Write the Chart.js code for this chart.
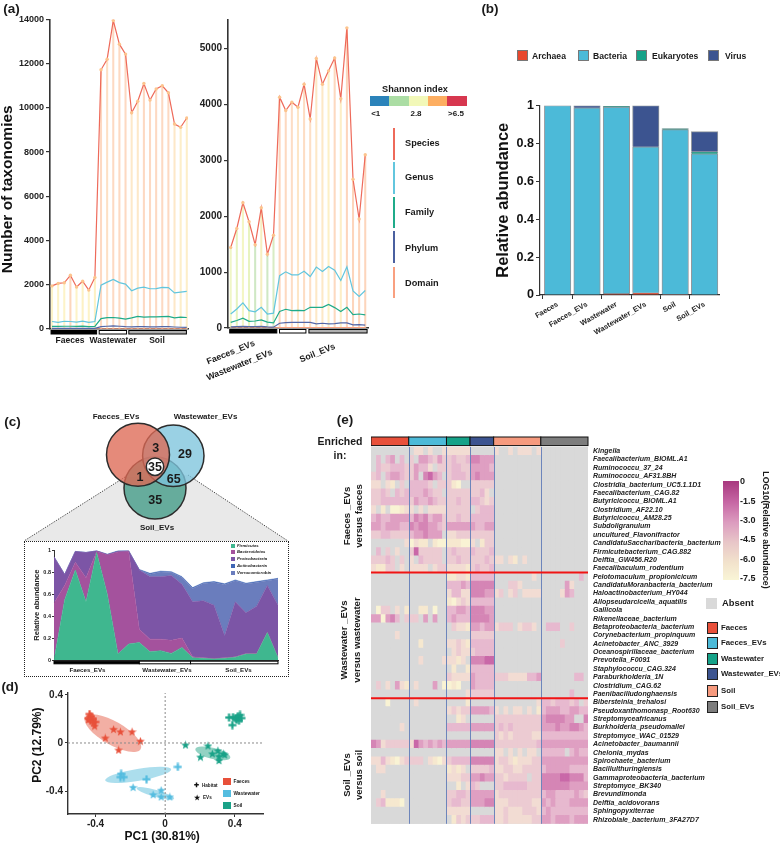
<!DOCTYPE html>
<html><head><meta charset="utf-8">
<style>
html,body{margin:0;padding:0;background:#fff;width:780px;height:844px;overflow:hidden}
#page{position:relative;width:780px;height:844px;font-family:"Liberation Sans",Arial,sans-serif;color:#1a1a1a}
canvas{position:absolute}
.t{position:absolute;white-space:nowrap;line-height:1;font-weight:bold;z-index:5}
.b{position:absolute;box-sizing:border-box}
</style>
<script src="https://cdn.jsdelivr.net/npm/chart.js@4/dist/chart.umd.min.js"></script>
</head><body><div id="page"></div>
<script>
// ---------- DATA ----------
const speciesA = [1950,2060,2090,2430,1900,2160,1760,2330,11720,12200,13950,12880,12430,9780,10300,11100,10350,10850,11000,10680,9270,9120,9540];
const genusA   = [340,300,350,340,310,360,300,340,1980,2120,2240,2100,2030,1730,1850,1890,1820,1830,1880,1870,1630,1670,1700];
const familyA  = [120,115,125,125,115,130,110,115,470,510,520,490,450,500,570,540,550,550,560,570,500,540,520];
const phylumA  = [25,25,30,30,25,30,25,30,110,125,140,125,105,100,105,110,100,100,110,105,90,80,75];
const domainA  = [3,3,3,3,3,3,3,3,6,6,6,6,6,6,6,6,6,6,6,6,6,6,6];
const ticksA   = [0,2000,4000,6000,8000,10000,12000,14000];

const speciesB = [1440,1780,2240,1900,1490,2150,1320,1660,4130,3890,4040,3950,4360,3740,4820,4360,4600,4830,4100,5370,2660,1950,3100];
const genusB   = [250,340,450,310,290,370,250,265,935,1005,950,950,1015,920,1090,1010,1100,1035,850,1095,665,565,670];
const familyB  = [100,135,175,120,125,145,105,90,295,335,310,315,310,370,370,370,420,365,295,370,240,250,235];
const phylumB  = [20,25,30,25,25,30,20,15,85,95,100,100,100,100,75,85,75,80,90,90,55,60,50];
const domainB  = [3,3,3,3,3,3,3,3,5,5,5,5,5,5,5,5,5,5,5,5,5,5,5];
const ticksB   = [0,1000,2000,3000,4000,5000];

const domainCats = ['Faeces','Faeces_EVs','Wastewater','Wastewater_EVs','Soil','Soil_EVs'];
const archaea    = [null,null,0.007,0.012,0.003,null];
const bacteria   = [1.0,0.988,0.985,0.77,0.87,0.745];
const eukaryotes = [null,null,0.003,null,0.005,0.012];
const virus      = [null,0.012,null,0.218,null,0.105];

const firmicutes  = [0,.55,.82,.53,.98,.6,.055,.145,.16,.075,.085,.06,.115,.02,.015,.01,.015,.025,.055,.055,.25,.02];
const bacteroidetes=[.52,.13,.07,.22,.01,.36,.93,.845,.12,.115,.105,.12,.085,.01,.005,.005,.005,.005,.005,.005,.005,.005];
const proteobacteria=[.42,.10,.10,.23,.005,0,.005,.005,.54,.57,.57,.59,.49,.50,.52,.485,.20,.50,.37,.43,.425,.475];
const verrucomicrobia=[0,0,0,0,0,0,0,0,0,.022,.042,.027,.062,.122,.157,.207,.467,.192,.262,.217,.042,.237];
const actinobacteria=[0,0,0,0,0,.005,.005,0,.005,.008,.008,.008,.008,.008,.008,.008,.008,.008,.008,.008,.008,.008];

const faecesHabitat=[[-.434,.241],[-.426,.22],[-.44,.207],[-.415,.2],[-.43,.186],[-.401,.175]];
const faecesEVs=[[-.44,.194],[-.411,.167],[-.405,.141],[-.344,.042],[-.296,.114],[-.257,.093],[-.19,.093],[-.142,.016],[-.267,-.058]];
const wasteHabitat=[[-.253,-.257],[-.238,-.284],[-.257,-.284],[-.107,-.302],[.073,-.199]];
const wasteEVs=[[-.184,-.369],[-.069,-.43],[-.023,-.393],[-.023,-.448],[.027,-.448]];
const soilHabitat=[[.367,.212],[.39,.215],[.405,.207],[.418,.223],[.43,.233],[.438,.207],[.424,.186],[.411,.194],[.386,.149]];
const soilEVs=[[.117,-.016],[.246,-.024],[.203,-.117],[.271,-.09],[.303,-.064],[.309,-.111],[.334,-.09],[.309,-.146],[.342,-.098]];

const heatRowNames=['Kingella','Faecalibacterium_BIOML.A1','Ruminococcu_37_24','Ruminococcu_AF31.8BH','Clostridia_bacterium_UC5.1.1D1','Faecalibacterium_CAG.82','Butyricicoccu_BIOML.A1','Clostridium_AF22.10','Butyricicoccu_AM28.25','Subdoligranulum','uncultured_Flavonifractor','CandidatuSaccharibacteria_bacterium','Firmicutebacterium_CAG.882','Delftia_GW456.R20','Faecalibaculum_rodentium','Pelotomaculum_propionicicum','CandidatuMoranbacteria_bacterium','Haloactinobacterium_HY044','Allopseudarcicella_aquatilis','Gallicola','Rikenellaceae_bacterium','Betaproteobacteria_bacterium','Corynebacterium_propinquum','Acinetobacter_ANC_3929','Oceanospirillaceae_bacterium','Prevotella_F0091','Staphylococcu_CAG.324','Paraburkholderia_1N','Clostridium_CAG.62','Paenibacilludonghaensis','Bibersteinia_trehalosi','Pseudoxanthomonasp_Root630','Streptomyceafricanus','Burkholderia_pseudomallei','Streptomyce_WAC_01529','Acinetobacter_baumannii','Chelonia_mydas','Spirochaete_bacterium','Bacillulthuringiensis','Gammaproteobacteria_bacterium','Streptomyce_BK340','Brevundimonda','Delftia_acidovorans','Sphingopyxiterrae','Rhizobiale_bacterium_3FA27D7'];
// one string per row; '.' = absent, 1..9 = abundance level; groups: Faeces, Faeces_EVs, Wastewater, Wastewater_EVs, Soil, Soil_EVs
const heatRows=[
"........ .33.3..3 33333 ..... 3..3.333.3 ..........",
".5.56.5. 4.665464 45445 77666 .......... ..........",
".5445554 46553.44 45544 66665 .......... ..........",
"45.56654 46.7865. 45554 67666 .......... ..........",
"33.32.4. 55554.44 421.. 44444 .......... ..........",
"4454.545 5556544. 44444 4453. .......... ..........",
"44555555 46556544 44544 55434 .......... ..........",
"3.2.1123 3.3.3333 44444 .4555 .......... ..........",
"56556666 57675664 44544 55555 .......... ..........",
"66566655 76776654 66666 65566 .......... ..........",
"44554444 5667666. 33444 44444 .......... ..........",
".......3 1322.211 22211 3.244 .......... ..........",
".5.4.3.. 4844444. 45444 54445 .......... ..........",
"44454.4. 3.54444. 44544 44454 33.32.3... ..........",
"32244.3. 3333.344 33332 45445 .......... ..........",
"........ ........ 22332 55555 ........3. ........5.",
"........ ........ 55565 77777 ...443.... .....63...",
"........ ........ 35533 77766 34.34.3333 ....365...",
"........ ........ 21343 55555 .......... ..........",
".144.3.2 ..22.1.. 55665 77766 .......... ..........",
"661675.4 44.6.6.. 56555 77776 .......... ..........",
"........ ........ .4332 66566 3444.3443. .555..4...",
".....3.. ........ ..... 44444 .......... ..........",
"........ ..2..... 33432 55555 .......... ....4.....",
"........ ........ .3433 45555 .......... ..........",
"........ ..3....3 3323. 77788 .......... ..........",
"........ ........ .2..2 55555 .......... ..........",
"........ ........ 43333 65555 4443333556 .......55.",
".4.3.632 .3...6.1 121.. 65555 .......... ..........",
"........ ........ ....3 44444 .......... ......5...",
"...1.... .3...... ....2 ..... .........3 55455545.4",
"........ ........ 34344 66665 3.3.33.3.2 5666556655",
"........ ........ ..23. ..... 4444444444 6777766..7",
"......3. ........ 55555 66666 4545444444 6667667765",
"........ ........ ..... ..... 4343444433 5555555555",
"76344444 38656565 66666 77777 4444444445 6666666666",
"........ ........ ..... ..... 33.3.3.33. 55555.5655",
"33532134 444.3213 45555 77777 3443233344 6666666666",
".33..... ........ 2323. 44445 3344334444 5666665555",
"........ ........ 33344 66766 4434444.44 7777887775",
"........ ........ ..2.3 54... 4455555444 7777776666",
"..3..... ........ 44554 66666 3444444444 5665555654",
".452221. ........ 45544 66677 3334444433 6565556666",
"........ ........ 33333 ..... 3343334443 5655555555",
"........ ........ .2434 44555 3343333344 6656665666"
].map(r=>r.replace(/ /g,''));
const heatColumns=46;
const groupSizes=[8,8,5,5,10,10];
const groupNames=['Faeces','Faeces_EVs','Wastewater','Wastewater_EVs','Soil','Soil_EVs'];

// ---------- STYLES ----------
const FONT='"Liberation Sans",Arial,sans-serif';
const INK='#222';
const colSpecies='#ee6a5a',colGenus='#62c6de',colFamily='#1fab8a',colPhylum='#5468a8',colDomain='#f9a080';
const groupColors=['#e8503a','#4cbad8','#15a288','#3c5490','#f69a7e','#7d7d7d'];
const levelColors={'.':'#d9d9d9','1':'#f9f3d4','2':'#f6e8cf','3':'#f2dcd3','4':'#eccbd2','5':'#e7b9cf','6':'#df9fc2','7':'#d585b5','8':'#c968a8','9':'#bb4c99'};
Chart.defaults.font.family=FONT;
Chart.defaults.color=INK;
Chart.defaults.animation=false;
Chart.defaults.responsive=false;
Chart.defaults.plugins.legend.display=false;
Chart.defaults.plugins.tooltip.enabled=false;
Chart.defaults.devicePixelRatio=1;

const page=document.getElementById('page');
function T(text,x,y,o={}){
  const s=document.createElement('span');s.className='t';s.textContent=text;
  s.style.left=x+'px';s.style.top=y+'px';
  s.style.fontSize=(o.size||9)+'px';
  if(o.weight)s.style.fontWeight=o.weight;
  if(o.italic)s.style.fontStyle='italic';
  if(o.color)s.style.color=o.color;
  const ax=o.anchor==='start'?'0':o.anchor==='end'?'-100%':'-50%';
  s.style.transform=`translate(${ax},-50%)`+(o.rot?` rotate(${o.rot}deg)`:'');
  s.style.transformOrigin=o.anchor==='start'?'left center':'center';
  page.appendChild(s);
}
function R(x,y,w,h,fill,border){
  const d=document.createElement('div');d.className='b';
  d.style.cssText+=`left:${x}px;top:${y}px;width:${w}px;height:${h}px;background:${fill};`+(border?`border:${border};`:'');
  page.appendChild(d);return d;
}
// chart with an exact plot rectangle
function frame(L,Tp,Rt,Bt,m,config){
  const c=document.createElement('canvas');
  const w=Rt-L+m.l+m.r,h=Bt-Tp+m.t+m.b;
  c.width=Math.round(w);c.height=Math.round(h);
  c.style.left=(L-m.l)+'px';c.style.top=(Tp-m.t)+'px';
  c.style.width=Math.round(w)+'px';c.style.height=Math.round(h)+'px';
  page.appendChild(c);
  config.options=config.options||{};
  config.options.layout={autoPadding:false,padding:{top:m.t,right:m.yRight?0:m.r,left:0,bottom:0}};
  const sc=config.options.scales;
  if(sc.x)sc.x.afterFit=s=>{s.height=m.b};
  if(sc.y)sc.y.afterFit=s=>{s.width=m.yRight?m.r:m.l};
  return new Chart(c,config);
}
const strips=(list,off,h)=>({id:'strips',afterDraw(ch){
  const x=ch.scales.x,y0=ch.chartArea.bottom+off,c=ch.ctx;
  c.save();
  list.forEach(([a,b,f])=>{const p=x.getPixelForValue(a),q=x.getPixelForValue(b);
    c.fillStyle=f;c.strokeStyle='#000';c.lineWidth=1;c.fillRect(p,y0,q-p,h);c.strokeRect(p,y0,q-p,h);});
  c.restore();
}});
const xy=a=>a.map((y,x)=>({x,y}));
const pts=a=>a.map(([x,y])=>({x,y}));
const lineDS=(d,col,w)=>({type:'line',data:xy(d),borderColor:col,borderWidth:w||1.2,pointRadius:0,tension:0,order:2});
const unitFmt=v=>v===1?'1':v===0?'0':v.toFixed(1);

// ---------- (a) ----------
const dropA=['#fdf3c8','#fdf3c8','#fdf3c8','#fcd6bc','#fdf3c8','#fdf1c4','#fdf3c8','#fdf1c4','#fdd9c2','#fde0c4','#fdd9c2','#fdd9c2','#fdd9c2','#fde8c8','#fde8c8','#fdd9c2','#fdd9c2','#fdd9c2','#fdd9c2','#fdd9c2','#fde8c8','#fdeec8','#fdeec8'];
const dropB=['#f0f6c6','#e8f3c0','#f4f6c4','#e8f3c0','#cfe8c4','#f6eec0','#cfe8c4','#d8ecc4','#fdd5bc','#fdd9c0','#fdddc4','#fde6c6','#fdddc4','#fddfc4','#fde8c6','#fde8c6','#fdf0c6','#fdd9c0','#fdeec6','#fdd5bc','#fdd5bc','#fdd5bc','#fdd5bc'];
function taxChart(L,Tp,Rt,Bt,m,xmin,xmax,ymax,tickVals,sp,ge,fa,ph,dm,drop,tickSize,strip,title){
  const y={min:0,max:ymax,afterBuildTicks:s=>{s.ticks=tickVals.map(value=>({value}))},
    ticks:{callback:v=>String(v),font:{size:tickSize,weight:'bold'},color:INK,padding:2},
    grid:{drawOnChartArea:false,tickLength:4,color:'#333',lineWidth:1.2},border:{color:'#333',width:1.6}};
  if(title)y.title={display:true,text:title,font:{size:15.5,weight:'bold',lineHeight:1},color:'#111',padding:0};
  frame(L,Tp,Rt,Bt,m,{type:'bar',data:{datasets:[
    {type:'line',data:xy(sp),borderColor:colSpecies,borderWidth:1.2,tension:0,pointRadius:1.7,pointBackgroundColor:'#fcc48e',pointBorderWidth:0,order:1},
    lineDS(ge,colGenus),lineDS(fa,colFamily),lineDS(ph,colPhylum),lineDS(dm,colDomain),
    {type:'bar',data:xy(sp),backgroundColor:drop,barThickness:1.4,order:5}
  ]},options:{scales:{
    x:{type:'linear',offset:false,min:xmin,max:xmax,ticks:{display:false},grid:{display:false},border:{color:'#333',width:1.6}},
    y
  }},plugins:[strips(strip,1.5,3.5)]});
}
taxChart(50,17,188.2,329,{l:50,t:5,r:4,b:12},-.33,22.2,14000,ticksA,speciesA,genusA,familyA,phylumA,domainA,dropA,9,
  [[-.16,7.28,'#000'],[7.7,12.17,'#fff'],[12.54,21.94,'#b0b0b0']],'Number of taxonomies       ');
taxChart(228.3,15,368,327.7,{l:34,t:3,r:4,b:12},-.44,22.45,5510,ticksB,speciesB,genusB,familyB,phylumB,domainB,dropB,10,
  [[-.16,7.54,'#000'],[7.98,12.3,'#fff'],[12.79,22.3,'#b0b0b0']]);
T('(a)',11.5,9,{size:13.5});
T('Faeces',70,340,{size:8.5});T('Wastewater',113,340,{size:8.5});T('Soil',157,340,{size:8.5});
T('Faeces_EVs',207,362,{size:8.8,rot:-22,anchor:'start'});
T('Wastewater_EVs',207,378,{size:8.8,rot:-22,anchor:'start'});
T('Soil_EVs',300,360,{size:8.8,rot:-22,anchor:'start'});

// Shannon legend
T('Shannon index',415,90,{size:9.2});
['#2b83ba','#abdda4','#f2f8b8','#fdae61','#d7374f'].forEach((c,i)=>R(370+i*19.34,95.7,19.34,10.3,c));
T('<1',375.7,114,{size:8});T('2.8',416,114,{size:8});T('>6.5',456,114,{size:8});
[['Species',127.7,159.7,143.5,colSpecies],['Genus',162.3,194,178,colGenus],['Family',197,228,213,colFamily],['Phylum',231,263,249,'#4a60a0'],['Domain',267,298,284,colDomain]].forEach(([n,a,b,y,c])=>{
  R(392.7,a,2,b-a,c);T(n,405,y,{size:9.2,anchor:'start'});
});

// ---------- (b) ----------
const barDS=(d,c)=>({data:d.map((y,x)=>({x,y})),backgroundColor:c,borderColor:'rgba(70,80,90,.6)',borderWidth:1,barThickness:26.5,stack:'s'});
frame(540,102,719,295.3,{l:45,t:6,r:14,b:50},{type:'bar',data:{datasets:[
  barDS(archaea,'#e8482e'),barDS(bacteria,'#4cbad8'),barDS(eukaryotes,'#15a288'),barDS(virus,'#3c5490')
]},options:{scales:{
  x:{type:'linear',offset:false,stacked:true,min:-.6,max:5.49,
    afterBuildTicks:s=>{s.ticks=domainCats.map((_,i)=>({value:i}))},
    ticks:{callback:v=>domainCats[v],autoSkip:false,minRotation:30,maxRotation:30,font:{size:7.4,weight:'bold'},color:INK,padding:1},
    grid:{drawOnChartArea:false,tickLength:4,color:'#333'},border:{color:'#333',width:1.2}},
  y:{stacked:true,min:0,max:1,ticks:{stepSize:.2,callback:unitFmt,font:{size:12.5,weight:'bold'},color:'#111',padding:2},
    grid:{drawOnChartArea:false,tickLength:4,color:'#333'},border:{color:'#333',width:1.2},
    title:{display:true,text:'Relative abundance',font:{size:16.5,weight:'bold',lineHeight:1},color:'#111',padding:0}}
}}});
T('(b)',490,9,{size:13.5});
[['Archaea',517,532,'#e8482e'],['Bacteria',578,593,'#4cbad8'],['Eukaryotes',636,652,'#15a288'],['Virus',708,725,'#3c5490']].forEach(([n,a,b,c])=>{
  R(a,50,11,11,c,'1px solid #777');T(n,b,55.5,{size:8.6,anchor:'start'});
});

// ---------- (c) venn ----------
const svg=document.createElementNS('http://www.w3.org/2000/svg','svg');
svg.setAttribute('width',780);svg.setAttribute('height',844);svg.style.cssText='position:absolute;left:0;top:0';
svg.innerHTML='<polygon points="125,477 24,541 288,541 188,475" fill="#e9e9e9"/>'+
 '<line x1="125" y1="477" x2="24" y2="541" stroke="#444" stroke-width="1" stroke-dasharray="1.3,1.3"/>'+
 '<line x1="188" y1="475" x2="288" y2="541" stroke="#444" stroke-width="1" stroke-dasharray="1.3,1.3"/>';
page.appendChild(svg);
const vennSets=[['centre',155,466.7,8.7,'#ffffff'],['Faeces_EVs',138,454.7,31.5,'rgba(222,105,85,.78)'],['Wastewater_EVs',173.3,455.7,30.7,'rgba(125,196,220,.78)'],['Soil_EVs',155,488,31,'rgba(65,155,135,.78)']];
frame(90,420,230,530,{l:0,t:0,r:0,b:0},{type:'bubble',data:{datasets:vennSets.map(([n,x,y,r,c],i)=>({label:n,data:[{x,y,r}],backgroundColor:c,borderColor:'#2c2c2c',borderWidth:1.5,order:i,clip:false}))},
 options:{scales:{x:{type:'linear',min:90,max:230,display:false},y:{type:'linear',min:420,max:530,reverse:true,display:false}}}});
T('(c)',12.5,421.7,{size:13.5});
T('Faeces_EVs',116,417,{size:8});T('Wastewater_EVs',205.5,417,{size:8});T('Soil_EVs',157,527.7,{size:8});
T('3',155.7,447.7,{size:12.5});T('29',185,454,{size:12.5});T('35',155,466.7,{size:12.5});T('1',140,477,{size:12.5});T('65',173.7,478.7,{size:12.5});T('35',155.3,500,{size:12.5});

// stacked area
R(23.5,541,265,135.5,'#fff','1px dotted #222').style.zIndex=0;
const areaDS=(d,c,fill)=>({label:'',data:d,backgroundColor:c,borderColor:c,borderWidth:.5,pointRadius:0,tension:0,fill});
frame(54.3,547.7,278.7,659.3,{l:24,t:2,r:2,b:8},{type:'line',data:{labels:firmicutes.map((_,i)=>i),datasets:[
  areaDS(firmicutes,'#3fb78f','origin'),areaDS(bacteroidetes,'#a4529d','-1'),areaDS(proteobacteria,'#7c55a6','-1'),areaDS(verrucomicrobia,'#6a7dbd','-1'),areaDS(actinobacteria,'#3f66b5','-1')
]},options:{scales:{
  x:{stacked:true,offset:false,ticks:{display:false},grid:{display:false},border:{color:'#333'}},
  y:{stacked:true,min:0,max:1,ticks:{stepSize:.2,callback:unitFmt,font:{size:5.5,weight:'bold'},color:INK,padding:1},
    grid:{drawOnChartArea:false,tickLength:2,color:'#333'},border:{color:'#333'},
    title:{display:true,text:'Relative abundance',font:{size:7.6,weight:'bold',lineHeight:1},color:INK,padding:{top:3,bottom:0}}}
}},plugins:[strips([[0,8.0,'#000'],[8.0,12.8,'#fff'],[12.8,21,'#fff']],1.2,2.6)]});
T('Faeces_EVs',87.5,669.5,{size:6.2});T('Wastewater_EVs',167,669.5,{size:6.2});T('Soil_EVs',238.5,669.5,{size:6.2});
[['Firmicutes',545.7,'#3fb78f'],['Bacteroidetes',552.4,'#a4529d'],['Proteobacteria',559.3,'#7c55a6'],['Actinobacteria',566,'#3f66b5'],['Verrucomicrobia',573,'#6a7dbd']].forEach(([n,y,c])=>{
  R(230.5,y-2,4.5,4,c);T(n,237,y,{size:4.3,italic:true,anchor:'start'});
});

// ---------- (d) ----------
function marker(kind,col){
  const c=document.createElement('canvas');c.width=c.height=9;const g=c.getContext('2d');g.fillStyle=col;
  if(kind==='plus'){g.fillRect(3.4,.5,2.2,8);g.fillRect(.5,3.4,8,2.2);}
  else{g.beginPath();for(let i=0;i<10;i++){const r=i%2?1.9:4.6,a=-Math.PI/2+i*Math.PI/5;g[i?'lineTo':'moveTo'](4.5+r*Math.cos(a),4.8+r*Math.sin(a));}g.closePath();g.fill();}
  return c;
}
const cRed='#e8503a',cBlue='#55bde0',cGreen='#1aa288';
const ellipses=[[-.30,.082,32,11.7,30,'rgba(232,110,90,.55)'],[-.155,-.265,33.5,6,-9.5,'rgba(90,190,220,.5)'],[-.056,-.42,19.5,3.5,16,'rgba(90,190,220,.5)'],[.274,-.087,18,5.5,14,'rgba(40,165,135,.5)']];
const ellipsePlugin={id:'ell',beforeDatasetsDraw(ch){const c=ch.ctx,{x,y}=ch.scales;c.save();
  ellipses.forEach(([a,b,rx,ry,rot,col])=>{c.fillStyle=col;c.beginPath();c.ellipse(x.getPixelForValue(a),y.getPixelForValue(b),rx,ry,rot*Math.PI/180,0,2*Math.PI);c.fill();});c.restore();}};
const sc=(d,kind,col)=>({type:'scatter',data:pts(d),pointStyle:marker(kind,col),pointRadius:4.5,showLine:false});
const refLine=(d)=>({type:'scatter',data:pts(d),showLine:true,borderColor:'#8a8a8a',borderWidth:1,borderDash:[2,2],pointRadius:0});
const tickList=[-.4,0,.4];
const tickFmt=v=>v===0?'0':v.toFixed(1);
frame(67.7,687,262.3,813.7,{l:42,t:2,r:3,b:30},{type:'scatter',data:{datasets:[
  refLine([[0,-.591],[0,.416]]),refLine([[-.558,0],[.562,0]]),
  sc(faecesHabitat,'plus',cRed),sc(faecesEVs,'star',cRed),sc(wasteHabitat,'plus',cBlue),sc(wasteEVs,'star',cBlue),sc(soilHabitat,'plus',cGreen),sc(soilEVs,'star',cGreen)
]},options:{scales:{
  x:{type:'linear',min:-.558,max:.562,afterBuildTicks:s=>{s.ticks=tickList.map(value=>({value}))},
    ticks:{callback:tickFmt,font:{size:10,weight:'bold'},color:INK,padding:1},grid:{drawOnChartArea:false,tickLength:3,color:'#333'},border:{color:'#333',width:1.4},
    title:{display:true,text:'PC1 (30.81%)  ',font:{size:12,weight:'bold'},color:'#111',padding:0}},
  y:{type:'linear',min:-.591,max:.416,afterBuildTicks:s=>{s.ticks=tickList.map(value=>({value}))},
    ticks:{callback:tickFmt,font:{size:10,weight:'bold'},color:INK,padding:2},grid:{drawOnChartArea:false,tickLength:3,color:'#333'},border:{color:'#333',width:1.4},
    title:{display:true,text:'     PC2 (12.79%)',font:{size:12,weight:'bold',lineHeight:1},color:'#111',padding:{top:6,bottom:0}}}
}},plugins:[ellipsePlugin]});
T('(d)',10,687,{size:13.5});
T('✚',196,785,{size:6,color:'#111'});T('Habitat',202,785.5,{size:4.6,anchor:'start'});
T('★',197,797,{size:7,color:'#111'});T('EVs',203,797.5,{size:4.6,anchor:'start'});
[['Faeces',778,cRed],['Wastewater',790,cBlue],['Soil',802,cGreen]].forEach(([n,y,c])=>{R(223,y,8,7,c);T(n,233.5,y+3.5,{size:4.8,anchor:'start'});});

// ---------- (e) heatmap ----------
const heatBounds=[];groupSizes.reduce((a,n)=>{heatBounds.push(a+n);return a+n},0);
const heatGroups=[];groupSizes.reduce((a,n,i)=>{heatGroups.push([a,a+n,groupColors[i]]);return a+n},0);
const heatPlugin={id:'heat',
 beforeDatasetsDraw(ch){const c=ch.ctx,a=ch.chartArea;c.save();c.fillStyle=levelColors['.'];c.fillRect(a.left,a.top,a.right-a.left,a.bottom-a.top);c.restore();},
 afterDraw(ch){const c=ch.ctx,a=ch.chartArea,{x,y}=ch.scales;c.save();
  c.strokeStyle='#6d85bb';c.lineWidth=1;
  heatBounds.slice(0,-1).forEach(v=>{const p=Math.round(x.getPixelForValue(v))+.5;c.beginPath();c.moveTo(p,a.top);c.lineTo(p,a.bottom);c.stroke();});
  c.strokeStyle='#f01414';c.lineWidth=2;
  [14.5,29.5].forEach(v=>{const p=y.getPixelForValue(v);c.beginPath();c.moveTo(a.left,p);c.lineTo(a.right,p);c.stroke();});
  heatGroups.forEach(([s,e,col])=>{const p=x.getPixelForValue(s),q=x.getPixelForValue(e);c.fillStyle=col;c.fillRect(p,a.top-10,q-p,8.6);c.strokeStyle='#111';c.lineWidth=1;c.strokeRect(p,a.top-10,q-p,8.6);});
  c.restore();}};
const heatDatasets=[];
for(let col=0;col<heatColumns;col++){
  heatDatasets.push({data:heatRowNames.map(()=>1),backgroundColor:heatRows.map(r=>levelColors[r[col]||'.']),borderWidth:0,barPercentage:1,categoryPercentage:1});
}
frame(370.7,446.7,587.7,832.7,{l:0,t:12,r:150,b:0,yRight:true},{type:'bar',data:{labels:heatRowNames,datasets:heatDatasets},options:{indexAxis:'y',scales:{
  x:{stacked:true,type:'linear',min:0,max:heatColumns,display:false},
  y:{stacked:true,position:'right',ticks:{autoSkip:false,font:{size:7,weight:'bold',style:'italic'},color:INK,padding:5},grid:{display:false,tickLength:0},border:{display:false}}
}},plugins:[heatPlugin]});
T('(e)',345,420,{size:13.5});
T('Enriched',340,440.7,{size:10.5});T('in:',340,455,{size:10.5});
T('Faeces _EVs',347,516,{size:9.6,rot:-90});T('versus faeces',359,516,{size:9.6,rot:-90});
T('Wastewater _EVs',344,640,{size:9.6,rot:-90});T('versus wastewater',357,640,{size:9.6,rot:-90});
T('Soil _EVs',347,775,{size:9.6,rot:-90});T('versus soil',359,775,{size:9.6,rot:-90});
// colour bar
R(723.3,480.7,16,99.5,'linear-gradient(to bottom,#a8387f 0%,#c768a5 22%,#dc9cbf 42%,#e8c6c8 62%,#f2e2cc 82%,#f9f5d6 100%)');
[['0',481],['-1.5',501],['-3.0',520],['-4.5',539],['-6.0',559],['-7.5',578]].forEach(([l,y])=>T(l,740,y,{size:9,anchor:'start'}));
T('LOG10(Relative abundance)',765.7,530,{size:8.8,rot:90});
R(706,598,11,11,'#d9d9d9');T('Absent',722,602.5,{size:9.4,anchor:'start'});
groupNames.forEach((n,i)=>{const y=[622,637,653,668,685,701][i];R(706.5,y,11.5,11.5,groupColors[i],'1.2px solid #222');T(n,721,y+5.5,{size:7.8,anchor:'start'});});
</script></body></html>
